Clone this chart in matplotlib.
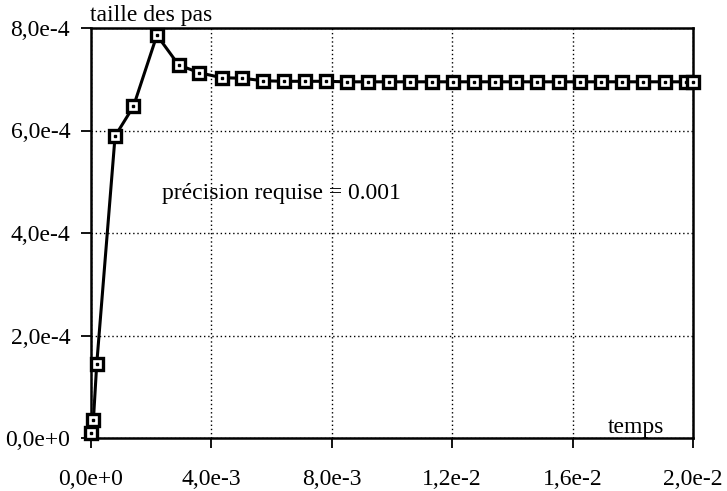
import matplotlib
matplotlib.use("Agg")
import matplotlib.pyplot as plt
from matplotlib.ticker import FuncFormatter, FixedLocator

# time of each step (s) and the step size taken there
temps = [0.0, 0.08e-3, 0.19e-3, 0.80e-3, 1.41e-3, 2.19e-3, 2.91e-3, 3.58e-3,
         4.34e-3, 5.03e-3, 5.73e-3, 6.41e-3, 7.10e-3, 7.80e-3, 8.50e-3,
         9.21e-3, 9.91e-3, 10.61e-3, 11.32e-3, 12.02e-3, 12.72e-3, 13.43e-3,
         14.13e-3, 14.83e-3, 15.54e-3, 16.24e-3, 16.94e-3, 17.65e-3,
         18.35e-3, 19.06e-3, 19.76e-3, 20.0e-3]
taille_pas = [0.10e-4, 0.35e-4, 1.44e-4, 5.89e-4, 6.47e-4, 7.86e-4, 7.28e-4,
              7.13e-4, 7.03e-4, 7.02e-4, 6.97e-4, 6.96e-4, 6.96e-4, 6.96e-4,
              6.95e-4, 6.95e-4, 6.95e-4, 6.95e-4, 6.95e-4, 6.95e-4, 6.95e-4,
              6.95e-4, 6.95e-4, 6.95e-4, 6.95e-4, 6.95e-4, 6.95e-4, 6.95e-4,
              6.95e-4, 6.95e-4, 6.95e-4, 6.95e-4]

x_ticks = [0.0, 4e-3, 8e-3, 1.2e-2, 1.6e-2, 2.0e-2]
y_ticks = [0.0, 2e-4, 4e-4, 6e-4, 8e-4]

plt.rcParams['font.family'] = ['Liberation Serif', 'DejaVu Serif']

W, H = 727, 491
fig = plt.figure(figsize=(W / 100, H / 100), dpi=100)
ax = fig.add_axes([91 / W, 1 - 438 / H, (693 - 91) / W, (438 - 28) / H])


def sci_fmt(v, pos=None):
    if v == 0:
        return "0,0e+0"
    s = f"{v:.1e}"
    mant, exp = s.split("e")
    e = int(exp)
    sign = "+" if e >= 0 else "-"
    return f"{mant.replace('.', ',')}e{sign}{abs(e)}"


ax.plot(temps, taille_pas, color='black', lw=2.2, marker='s', ms=8.5,
        mfc='white', mec='black', mew=2.4, zorder=3, clip_on=False)
ax.plot(temps, taille_pas, ls='none', marker='s', ms=1.6, color='black',
        zorder=4, clip_on=False)

ax.set_xlim(0, 0.02)
ax.set_ylim(0, 8e-4)
ax.xaxis.set_major_locator(FixedLocator(x_ticks))
ax.yaxis.set_major_locator(FixedLocator(y_ticks))
ax.xaxis.set_major_formatter(FuncFormatter(sci_fmt))
ax.yaxis.set_major_formatter(FuncFormatter(sci_fmt))
ax.tick_params(direction='out', length=7, width=1.3, labelsize=17,
               colors='black')
ax.tick_params(axis='y', pad=8)
ax.tick_params(axis='x', pad=15)

ax.grid(True, color='black', lw=1.0, ls=(0, (1, 2)))
ax.set_axisbelow(True)
for sp in ax.spines.values():
    sp.set_linewidth(1.8)
    sp.set_color('black')

fig.text(90 / W, 1 - 15 / H, "taille des pas", fontsize=17,
         ha='left', va='center')
fig.text(608 / W, 1 - 428 / H, "temps", fontsize=17, ha='left', va='center')
ax.text(162 / W, 1 - 193 / H, "précision requise = 0.001", fontsize=17,
        ha='left', va='center', transform=fig.transFigure)

fig.savefig("out.png", dpi=100)
